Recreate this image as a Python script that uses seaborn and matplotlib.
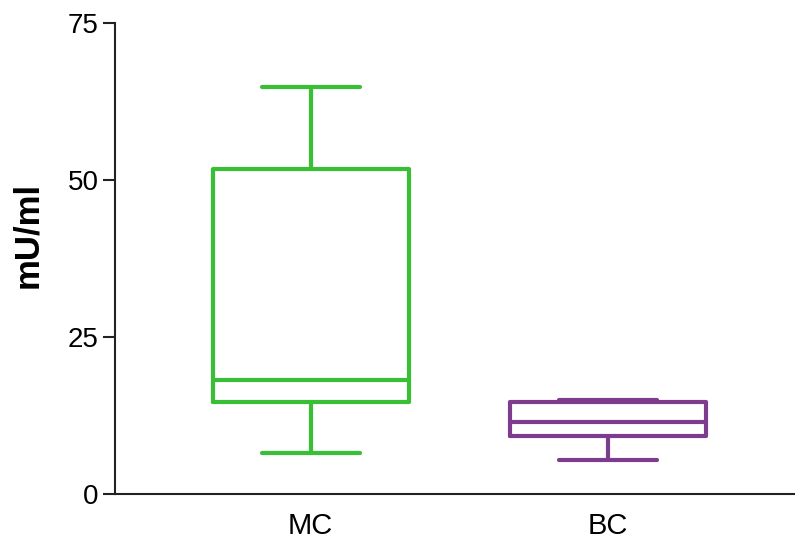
import matplotlib
matplotlib.use("Agg")
import matplotlib.pyplot as plt
import seaborn as sns
import pandas as pd

# Five-number summaries (min, Q1, median, Q3, max)
groups = ["MC", "BC"]
mc_values = [6.5, 14.7, 18.2, 51.8, 64.8]
bc_values = [5.4, 9.2, 11.5, 14.6, 15.0]
colors = ["#38bf36", "#7d3c8e"]
yticks = [0, 25, 50, 75]

df = pd.DataFrame({
    "group": ["MC"] * len(mc_values) + ["BC"] * len(bc_values),
    "value": mc_values + bc_values,
})

sns.set_theme(style="ticks")
plt.rcParams["font.family"] = ["Liberation Sans", "DejaVu Sans"]

fig = plt.figure(figsize=(7.95, 5.45), dpi=100)
ax = fig.add_axes([0.1447, 0.0936, 0.8553, 0.8644])

sns.boxplot(data=df, x="group", y="value", order=groups, hue="group",
            palette=colors, whis=(0, 100), width=0.66, fill=False,
            linewidth=3, showfliers=False, legend=False, ax=ax)

ax.set_ylim(0, 75)
ax.set_yticks(yticks)
ax.set_xlim(-0.658, 1.63)
ax.set_xlabel("")
ax.set_ylabel("mU/ml", fontsize=25, fontweight="bold", color="black")
ax.yaxis.set_label_coords(-0.104, 0.55)
ax.tick_params(axis="y", labelsize=20, length=9, width=1.5, pad=3,
               labelcolor="black", color="#222222")
ax.tick_params(axis="x", labelsize=21, length=0, pad=13, labelcolor="black")
for s in ["top", "right"]:
    ax.spines[s].set_visible(False)
for s in ["left", "bottom"]:
    ax.spines[s].set_linewidth(1.5)
    ax.spines[s].set_color("#222222")

fig.savefig("out.png", dpi=100)
